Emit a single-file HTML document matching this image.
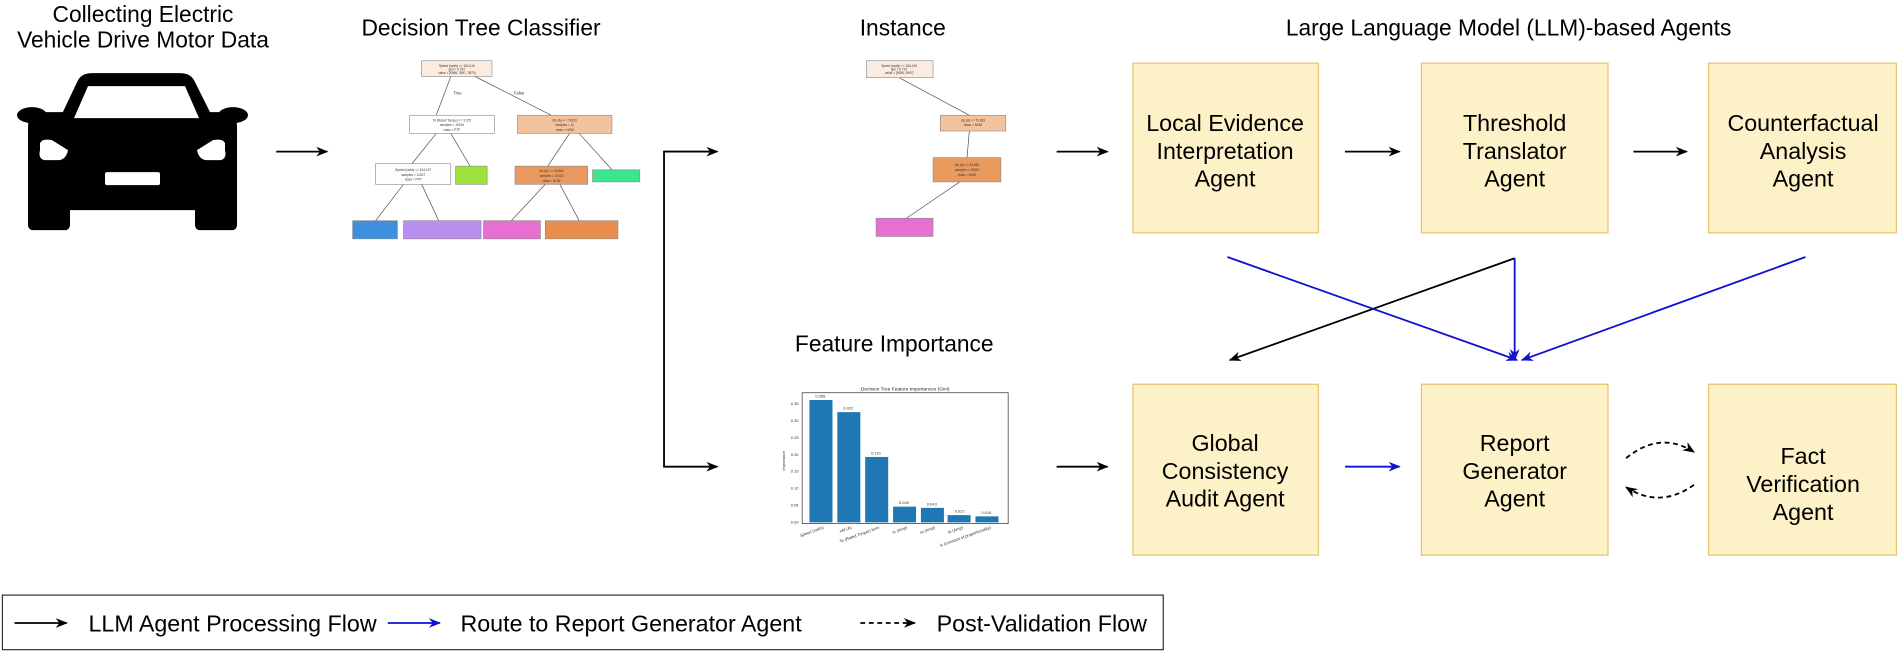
<!DOCTYPE html>
<html><head><meta charset="utf-8"><style>
html,body{margin:0;padding:0;background:#fff;}
svg{display:block;font-family:"Liberation Sans",Arial,sans-serif;}
</style></head><body>
<svg width="1900" height="651" viewBox="0 0 1568 537" xmlns="http://www.w3.org/2000/svg">
<defs>
<marker id="ak" markerWidth="10" markerHeight="8" refX="9" refY="4" orient="auto" markerUnits="userSpaceOnUse"><path d="M0,0 L10,4 L0,8 L3,4 Z" fill="#000"/></marker>
<marker id="ab" markerWidth="10" markerHeight="8" refX="9" refY="4" orient="auto" markerUnits="userSpaceOnUse"><path d="M0,0 L10,4 L0,8 L3,4 Z" fill="#1010d0"/></marker>
</defs>

<g font-size="18.8" fill="#000" text-anchor="middle">
<text x="118" y="18">Collecting Electric</text>
<text x="118" y="39">Vehicle Drive Motor Data</text>
<text x="397" y="29">Decision Tree Classifier</text>
<text x="745" y="29">Instance</text>
<text x="1245" y="29">Large Language Model (LLM)-based Agents</text>
<text x="738" y="290">Feature Importance</text>
</g>

<g transform="scale(0.8253)">
<path d="M60,118 L78,80 Q82,73 92,73 L180,73 Q190,73 194,80 L213,118 Z" fill="#000"/>
<rect x="28" y="112" width="209" height="98" rx="14" fill="#000"/>
<rect x="28" y="190" width="42" height="40" rx="5" fill="#000"/>
<rect x="195" y="190" width="42" height="40" rx="5" fill="#000"/>
<ellipse cx="32" cy="115" rx="15" ry="8" fill="#000"/>
<ellipse cx="233" cy="115" rx="15" ry="8" fill="#000"/>
<path d="M74,118 L88,86 L185,86 L199,118 Z" fill="#fff"/>
<path d="M40,143 Q42,138 52,140 L68,150 Q66,160 58,160 L44,160 Q38,158 40,150 Z" fill="#fff"/>
<path d="M225,143 Q223,138 213,140 L197,150 Q199,160 207,160 L221,160 Q227,158 225,150 Z" fill="#fff"/>
<rect x="105" y="172" width="55" height="13" rx="2" fill="#fff"/>
</g>

<g stroke="#000" stroke-width="1.5" fill="none">
<line x1="228" y1="125" x2="270" y2="125" marker-end="url(#ak)"/>
<polyline points="592,125 548,125 548,385 592,385" marker-end="url(#ak)"/>
<line x1="548" y1="125" x2="592" y2="125" marker-end="url(#ak)"/>
<line x1="872" y1="125" x2="914" y2="125" marker-end="url(#ak)"/>
<line x1="1110" y1="125" x2="1155" y2="125" marker-end="url(#ak)"/>
<line x1="1348" y1="125" x2="1392" y2="125" marker-end="url(#ak)"/>
<line x1="872" y1="385" x2="914" y2="385" marker-end="url(#ak)"/>
<line x1="1250" y1="213" x2="1015" y2="297" marker-end="url(#ak)"/>
<path d="M1342,378 Q1370,355 1398,373" stroke-dasharray="4,3" marker-end="url(#ak)"/>
<path d="M1398,400 Q1370,420 1342,402" stroke-dasharray="4,3" marker-end="url(#ak)"/>
</g>
<g stroke="#1010d0" stroke-width="1.5" fill="none">
<line x1="1110" y1="385" x2="1155" y2="385" marker-end="url(#ab)"/>
<line x1="1013" y1="212" x2="1252" y2="297" marker-end="url(#ab)"/>
<line x1="1490" y1="212" x2="1256" y2="297" marker-end="url(#ab)"/>
<line x1="1250" y1="213" x2="1250" y2="297" marker-end="url(#ab)"/>
</g>

<g fill="#fdf1c8" stroke="#e6c26e" stroke-width="1">
<rect x="935" y="52" width="153" height="140"/>
<rect x="1173" y="52" width="154" height="140"/>
<rect x="1410" y="52" width="155" height="140"/>
<rect x="935" y="317" width="153" height="141"/>
<rect x="1173" y="317" width="154" height="141"/>
<rect x="1410" y="317" width="155" height="141"/>
</g>
<g font-size="19.2" fill="#000" text-anchor="middle">
<text x="1011" y="108">Local Evidence</text><text x="1011" y="131">Interpretation</text><text x="1011" y="154">Agent</text>
<text x="1250" y="108">Threshold</text><text x="1250" y="131">Translator</text><text x="1250" y="154">Agent</text>
<text x="1488" y="108">Counterfactual</text><text x="1488" y="131">Analysis</text><text x="1488" y="154">Agent</text>
<text x="1011" y="372">Global</text><text x="1011" y="395">Consistency</text><text x="1011" y="418">Audit Agent</text>
<text x="1250" y="372">Report</text><text x="1250" y="395">Generator</text><text x="1250" y="418">Agent</text>
<text x="1488" y="383">Fact</text><text x="1488" y="406">Verification</text><text x="1488" y="429">Agent</text>
</g>

<g stroke="#555" stroke-width="0.6">
<line x1="372" y1="63" x2="360" y2="95"/><line x1="392" y1="63" x2="455" y2="95"/>
<line x1="360" y1="110" x2="340" y2="135"/><line x1="372" y1="110" x2="388" y2="137"/>
<line x1="470" y1="110" x2="452" y2="137"/><line x1="478" y1="110" x2="505" y2="140"/>
<line x1="333" y1="152" x2="310" y2="182"/><line x1="348" y1="152" x2="362" y2="182"/>
<line x1="450" y1="152" x2="422" y2="182"/><line x1="462" y1="152" x2="478" y2="182"/>
<line x1="742" y1="64" x2="800" y2="95"/><line x1="800" y1="108" x2="798" y2="130"/><line x1="792" y1="150" x2="748" y2="180"/>
</g>
<g stroke="#888" stroke-width="0.5">
<rect x="348" y="50" width="58" height="13" fill="#fcebdf"/>
<rect x="338" y="95" width="70" height="15" fill="#fff"/>
<rect x="427" y="95" width="78" height="15" fill="#f5c29e"/>
<rect x="310" y="135" width="62" height="17" fill="#fdfdff"/>
<rect x="376" y="137" width="26" height="15" fill="#9ee23c"/>
<rect x="425" y="137" width="60" height="15" fill="#ea9a5f"/>
<rect x="489" y="140" width="39" height="10" fill="#3de58c"/>
<rect x="291" y="182" width="37" height="15" fill="#3e8fe0"/>
<rect x="333" y="182" width="64" height="15" fill="#b990f0"/>
<rect x="399" y="182" width="47" height="15" fill="#e86fd2"/>
<rect x="450" y="182" width="60" height="15" fill="#e88f4d"/>
<rect x="715" y="50" width="55" height="14" fill="#fcebdf"/>
<rect x="776" y="95" width="54" height="13" fill="#f5c29e"/>
<rect x="770" y="130" width="56" height="20" fill="#ea9a5f"/>
<rect x="723" y="180" width="47" height="15" fill="#e86fd2"/>
</g>
<g font-size="2.6" fill="#333" text-anchor="middle">
<text x="377" y="55">Speed (rad/s) &lt;= 184.419</text><text x="377" y="58">gini = 0.797</text><text x="377" y="61">value = [9056, 3997, 2879]</text>
<text x="373" y="100">Te (Rated Torque) &lt;= 3.375</text><text x="373" y="104">samples = 19019</text><text x="373" y="108">class = PTP</text>
<text x="466" y="100">Ids (A) &lt;= 70.833</text><text x="466" y="104">samples = 11</text><text x="466" y="108">class = NOM</text>
<text x="341" y="141">Speed (rad/s) &lt;= 104.197</text><text x="341" y="145">samples = 11027</text><text x="341" y="149">class = PTP</text>
<text x="455" y="142">Ids (A) &lt;= 43.563</text><text x="455" y="146">samples = 10323</text><text x="455" y="150">class = NOM</text>
<text x="742" y="55">Speed (rad/s) &lt;= 184.419</text><text x="742" y="58">gini = 0.797</text><text x="742" y="61">value = [9056, 3997]</text>
<text x="803" y="100">Ids (A) &lt;= 70.833</text><text x="803" y="104">class = NOM</text>
<text x="798" y="137">Ids (A) &lt;= 43.563</text><text x="798" y="141">samples = 10323</text><text x="798" y="145">class = NOM</text>
</g>
<g font-size="3.5" fill="#333"><text x="374" y="78">True</text><text x="424" y="78">False</text></g>

<text x="747" y="322" font-size="4" text-anchor="middle" fill="#222">Decision Tree Feature Importances (Gini)</text>
<rect x="662" y="324" width="170" height="108" fill="none" stroke="#333" stroke-width="0.6"/>
<g fill="#1f77b4">
<rect x="668" y="330" width="19" height="101"/>
<rect x="691" y="340" width="19" height="91"/>
<rect x="714" y="377" width="19" height="54"/>
<rect x="737" y="418" width="19" height="13"/>
<rect x="760" y="419" width="19" height="12"/>
<rect x="782" y="425" width="19" height="6"/>
<rect x="805" y="426" width="19" height="5"/>
</g>
<g font-size="3.3" fill="#333" text-anchor="middle">
<text x="677" y="328">0.358</text><text x="700" y="338">0.322</text><text x="723" y="375">0.191</text><text x="746" y="416">0.049</text><text x="769" y="417">0.043</text><text x="792" y="423">0.022</text><text x="814" y="424">0.018</text>
</g>
<g font-size="3.3" fill="#333" text-anchor="end">
<text x="659" y="334">0.35</text><text x="659" y="348">0.30</text><text x="659" y="362">0.25</text><text x="659" y="376">0.20</text><text x="659" y="390">0.15</text><text x="659" y="404">0.10</text><text x="659" y="418">0.05</text><text x="659" y="432">0.00</text>
</g>
<text x="648" y="380" font-size="3.3" fill="#333" transform="rotate(-90 648 380)" text-anchor="middle">Importance</text>
<g font-size="3.4" fill="#333" text-anchor="end">
<text transform="translate(680,436) rotate(-20)">Speed (rad/s)</text>
<text transform="translate(703,436) rotate(-20)">Idd (A)</text>
<text transform="translate(726,436) rotate(-20)">Te (Rated Torque) term</text>
<text transform="translate(749,436) rotate(-20)">Ic (Amp)</text>
<text transform="translate(772,436) rotate(-20)">Ia (Amp)</text>
<text transform="translate(795,436) rotate(-20)">Ib (Amp)</text>
<text transform="translate(818,436) rotate(-20)">K (constant of proportionality)</text>
</g>

<rect x="2" y="491" width="958" height="45" fill="#fff" stroke="#333" stroke-width="1"/>
<g stroke-width="1.5">
<line x1="12" y1="514" x2="55" y2="514" stroke="#000" marker-end="url(#ak)"/>
<line x1="320" y1="514" x2="363" y2="514" stroke="#1010d0" marker-end="url(#ab)"/>
<line x1="710" y1="514" x2="755" y2="514" stroke="#000" stroke-dasharray="4,3" marker-end="url(#ak)"/>
</g>
<g font-size="19.2" fill="#000">
<text x="73" y="521">LLM Agent Processing Flow</text>
<text x="380" y="521">Route to Report Generator Agent</text>
<text x="773" y="521">Post-Validation Flow</text>
</g>
</svg>
</body></html>
